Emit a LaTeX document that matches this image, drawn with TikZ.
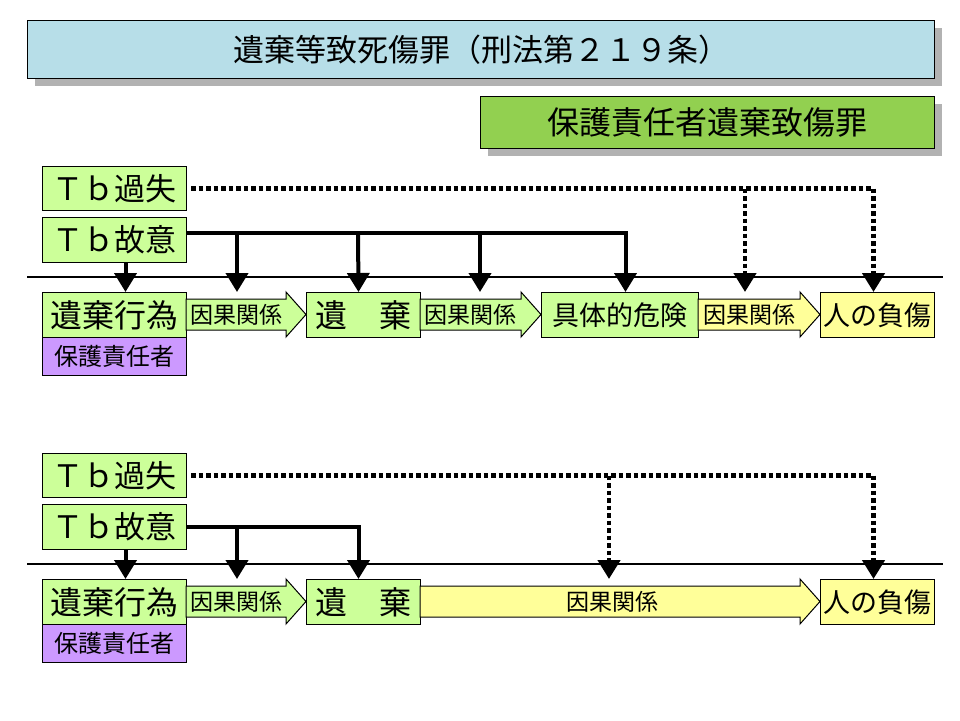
\documentclass[tikz,border=0pt]{standalone}
\usepackage{fontspec}
\setmainfont{Noto Sans CJK JP}
\usetikzlibrary{arrows.meta,calc}
\definecolor{lgreen}{HTML}{CCFF99}
\definecolor{lyellow}{HTML}{FFFF99}
\definecolor{lpurple}{HTML}{CC99FF}
\definecolor{tblue}{HTML}{B7DEE8}
\definecolor{mgreen}{HTML}{92D050}
\definecolor{shadowgray}{HTML}{B2B2B2}
\newcommand{\fs}[1]{\fontsize{#1}{#1}\selectfont}
\tikzset{
  box/.style={draw=black, line width=1pt, inner sep=0pt, anchor=north west, text=black},
  barrow/.style={draw=black, line width=1pt},
  atext/.style={inner sep=0pt, font=\fs{23}},
  sarr/.style={line width=4pt, line join=miter, -{Triangle[width=22pt,length=19pt]}},
  darr/.style={line width=4.5pt, dash pattern=on 4.5pt off 3pt, -{Triangle[width=22pt,length=19pt]}},
  sep/.style={line width=1.2pt}
}
\begin{document}
\begin{tikzpicture}[x=1pt,y=-1pt]
\useasboundingbox (0,0) rectangle (960,720);
% title
\fill[shadowgray] (35,28) rectangle (942,86);
\node[box, fill=tblue, minimum width=907pt, minimum height=58pt, font=\fs{31}] (title) at (27,20) {遺棄等致死傷罪（刑法第２１９条）};
\fill[shadowgray] (488,104) rectangle (942,156);
\node[box, fill=mgreen, minimum width=454pt, minimum height=52pt, font=\fs{32}] (sub) at (480,96) {保護責任者遺棄致傷罪};

% separators
\draw[sep] (27,277) -- (943,277);
\draw[sep] (27,564) -- (943,564);

% ---------- top section ----------
\node[box, fill=lgreen, minimum width=144pt, minimum height=44pt, font=\fs{31}] (tk1) at (42,166) {Ｔｂ過失};
\node[box, fill=lgreen, minimum width=144pt, minimum height=45pt, font=\fs{31}] (tk2) at (42,217) {Ｔｂ故意};
\node[box, fill=lgreen, minimum width=144pt, minimum height=45pt, font=\fs{32}] (kou1) at (42,292) {遺棄行為};
\node[box, fill=lpurple, minimum width=144pt, minimum height=38pt, font=\fs{24}] (hogo1) at (42,337) {保護責任者};
\node[box, fill=lgreen, minimum width=114pt, minimum height=45pt, font=\fs{32}] (iki1) at (306,292) {遺　棄};
\node[box, fill=lgreen, minimum width=157pt, minimum height=45pt, font=\fs{27}] (kiken1) at (541,292) {具体的危険};
\node[box, fill=lyellow, minimum width=114pt, minimum height=45pt, font=\fs{27}] (fusho1) at (820,292) {人の負傷};

\draw[barrow, fill=lgreen] (186,299) -- (286,299) -- (286,292) -- (306,314.5) -- (286,337) -- (286,330) -- (186,330) -- cycle;
\node[atext] (c1) at (236,314.5) {因果関係};
\draw[barrow, fill=lgreen] (420,299) -- (521,299) -- (521,292) -- (541,314.5) -- (521,337) -- (521,330) -- (420,330) -- cycle;
\node[atext] (c2) at (470,314.5) {因果関係};
\draw[barrow, fill=lyellow] (698,299) -- (800,299) -- (800,292) -- (820,314.5) -- (800,337) -- (800,330) -- (698,330) -- cycle;
\node[atext] (c3) at (749,314.5) {因果関係};

% solid (intent) connectors, top
\coordinate (s0) at ([yshift=7.5pt]tk2.east);
\coordinate (s1) at (s0 -| 237,0);
\coordinate (s2) at (s0 -| 358,0);
\coordinate (s3) at (s0 -| 480,0);
\draw[sarr] ([xshift=11pt]tk2.south) -- ([xshift=11pt]kou1.north);
\draw[sarr] (s0) -| ([xshift=5.5pt]kiken1.north);
\draw[sarr] (s1) -- (s1 |- kou1.north);
\draw[sarr] (s2) -- ([xshift=-5pt]iki1.north);
\draw[sarr] (s3) -- (s3 |- kou1.north);

% dotted (negligence) connectors, top
\coordinate (d0) at ([xshift=4pt]tk1.east);
\coordinate (d1) at (d0 -| 745,0);
\draw[darr] (d0) -| ([xshift=-4pt]fusho1.north);
\draw[darr] (d1) -- (d1 |- kou1.north);

% ---------- bottom section ----------
\node[box, fill=lgreen, minimum width=144pt, minimum height=44pt, font=\fs{31}] (tk3) at (42,453) {Ｔｂ過失};
\node[box, fill=lgreen, minimum width=144pt, minimum height=45pt, font=\fs{31}] (tk4) at (42,504) {Ｔｂ故意};
\node[box, fill=lgreen, minimum width=144pt, minimum height=45pt, font=\fs{32}] (kou2) at (42,579) {遺棄行為};
\node[box, fill=lpurple, minimum width=144pt, minimum height=38pt, font=\fs{24}] (hogo2) at (42,624) {保護責任者};
\node[box, fill=lgreen, minimum width=114pt, minimum height=45pt, font=\fs{32}] (iki2) at (306,579) {遺　棄};
\node[box, fill=lyellow, minimum width=114pt, minimum height=45pt, font=\fs{27}] (fusho2) at (820,579) {人の負傷};

\draw[barrow, fill=lgreen] (186,586) -- (286,586) -- (286,579) -- (306,601.5) -- (286,624) -- (286,617) -- (186,617) -- cycle;
\node[atext] (c4) at (236,601.5) {因果関係};
\draw[barrow, fill=lyellow] (420,586) -- (800,586) -- (800,579) -- (820,601.5) -- (800,624) -- (800,617) -- (420,617) -- cycle;
\node[atext] (c5) at (612,601.5) {因果関係};

% solid connectors, bottom
\coordinate (t0) at (tk4.east);
\coordinate (t1) at (t0 -| 237,0);
\draw[sarr] ([xshift=11pt]tk4.south) -- ([xshift=11pt]kou2.north);
\draw[sarr] (t0) -| ([xshift=-5pt]iki2.north);
\draw[sarr] (t1) -- (t1 |- kou2.north);

% dotted connectors, bottom
\coordinate (e0) at ([xshift=4pt]tk3.east);
\coordinate (e1) at (e0 -| 609,0);
\draw[darr] (e0) -| ([xshift=-4pt]fusho2.north);
\draw[darr] (e1) -- (e1 |- kou2.north);
\end{tikzpicture}
\end{document}
